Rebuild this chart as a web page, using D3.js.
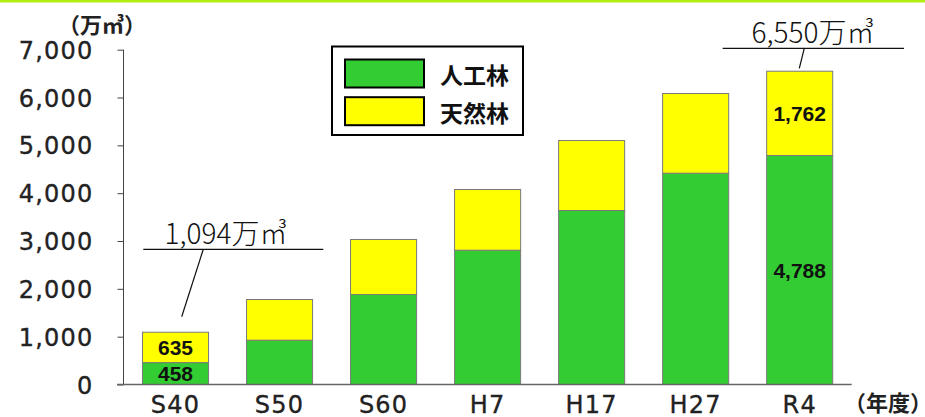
<!DOCTYPE html>
<html>
  <head>
    <meta charset="UTF-8">
    <title>森林蓄積の推移</title>
    <script src="https://d3js.org/d3.v7.min.js"></script>
    <style>
      body { margin: 0; background: #fff; }
    </style>
  </head>
  <body>
    <svg width="925" height="417"></svg>

    <script>

// 年度ごとの森林蓄積（万㎥）
const years = ["S40", "S50", "S60", "H7", "H17", "H27", "R4"];
const planted = [458, 926, 1882, 2808, 3638, 4418, 4788];   // 人工林
const natural = [635, 851, 1150, 1269, 1463, 1666, 1762];   // 天然林
const yTicks = [0, 1000, 2000, 3000, 4000, 5000, 6000, 7000];
const seriesNames = ["人工林", "天然林"];
const seriesColors = ["#33cc33", "#ffff00"];

const rows = years.map((y, i) => ({ year: y, planted: planted[i], natural: natural[i] }));

const svg = d3.select("svg");

// top accent line
svg.append("rect")
  .attr("x", 0).attr("y", 0)
  .attr("width", 925).attr("height", 2.5)
  .attr("fill", "#b2ee10");

const x = d3.scaleBand()
  .domain(years)
  .range([123.5, 851.7])
  .paddingInner(0.365)
  .paddingOuter(0.1825);

const y = d3.scaleLinear()
  .domain([0, 7000])
  .range([384.5, 49.7]);

const stack = d3.stack().keys(["planted", "natural"]);
const layers = stack(rows);

// bars
svg.append("g")
  .selectAll("g")
  .data(layers)
  .join("g")
    .attr("fill", (d, i) => seriesColors[i])
  .selectAll("rect")
  .data(d => d)
  .join("rect")
    .attr("x", d => x(d.data.year))
    .attr("y", d => y(d[1]))
    .attr("width", x.bandwidth())
    .attr("height", d => y(d[0]) - y(d[1]))
    .attr("stroke", "#7a7a7a")
    .attr("stroke-width", 1);

// y axis
const yAxis = svg.append("g")
  .attr("transform", "translate(123.5,0)")
  .call(d3.axisLeft(y).tickValues(yTicks).tickSize(6).tickPadding(24)
    .tickFormat(d3.format(",")));
yAxis.select(".domain").attr("stroke", "#444").attr("d", "M0," + y(7000) + "V" + y(0));
yAxis.selectAll(".tick line").attr("stroke", "#444");
yAxis.selectAll(".tick text")
  .attr("font-family", "DejaVu Sans")
  .attr("font-size", 24)
  .attr("letter-spacing", 1.2)
  .attr("fill", "#222")
  .attr("stroke", "#222")
  .attr("stroke-width", 0.35)
  .attr("dy", "0.36em");

// baseline
svg.append("line")
  .attr("x1", 117).attr("x2", 851.7)
  .attr("y1", y(0)).attr("y2", y(0))
  .attr("stroke", "#666").attr("stroke-width", 1.5);

// x labels
svg.append("g")
  .selectAll("text")
  .data(years)
  .join("text")
    .attr("x", d => x(d) + x.bandwidth() / 2)
    .attr("y", 413)
    .attr("text-anchor", "middle")
    .attr("font-family", "DejaVu Sans")
    .attr("font-size", 24)
    .attr("letter-spacing", 1.2)
    .attr("fill", "#222")
    .attr("stroke", "#222")
    .attr("stroke-width", 0.35)
    .text(d => d);

// units
svg.append("text")
  .attr("x", 102).attr("y", 33)
  .attr("text-anchor", "middle")
  .attr("font-family", "Noto Sans CJK JP")
  .attr("font-weight", "bold")
  .attr("font-size", 22)
  .attr("fill", "#222")
  .text("（万㎥）");

svg.append("text")
  .attr("x", 888).attr("y", 411)
  .attr("text-anchor", "middle")
  .attr("font-family", "Noto Sans CJK JP")
  .attr("font-weight", "bold")
  .attr("font-size", 22)
  .attr("fill", "#222")
  .text("（年度）");

// value labels on S40 and R4
const fmt = d3.format(",");
const valueLabels = [];
[0, years.length - 1].forEach(i => {
  layers.forEach(layer => {
    const d = layer[i];
    valueLabels.push({ year: d.data.year, v: d[1] - d[0], mid: (d[0] + d[1]) / 2 });
  });
});
svg.append("g")
  .selectAll("text")
  .data(valueLabels)
  .join("text")
    .attr("x", d => x(d.year) + x.bandwidth() / 2)
    .attr("y", d => y(d.mid))
    .attr("dy", "0.36em")
    .attr("text-anchor", "middle")
    .attr("font-family", "Liberation Sans")
    .attr("font-weight", "bold")
    .attr("font-size", 21)
    .attr("fill", "#111")
    .text(d => fmt(d.v));

// total callouts
const totals = [
  { year: "S40", total: planted[0] + natural[0] + 1, x1: 143.3, x2: 323.3, ly: 249.3, lx: 203.3, bx: 181.7, by: 316.7, tx: 226 },
  { year: "R4", total: planted[6] + natural[6], x1: 722.7, x2: 904, ly: 48.3, lx: 804.3, bx: 799.3, by: 68.3, tx: 813 }
];
const callout = svg.append("g").selectAll("g").data(totals).join("g");
callout.append("line")
  .attr("x1", d => d.x1).attr("x2", d => d.x2)
  .attr("y1", d => d.ly).attr("y2", d => d.ly)
  .attr("stroke", "#111").attr("stroke-width", 1.2);
callout.append("line")
  .attr("x1", d => d.lx).attr("y1", d => d.ly)
  .attr("x2", d => d.bx).attr("y2", d => d.by)
  .attr("stroke", "#111").attr("stroke-width", 1.2);
callout.append("text")
  .attr("x", d => d.tx)
  .attr("y", d => d.ly - 5)
  .attr("text-anchor", "middle")
  .attr("font-family", "Noto Sans CJK JP")
  .attr("font-weight", 300)
  .attr("font-size", 28)
  .attr("fill", "#111")
  .text(d => fmt(d.total) + "万㎥");

// legend
const legend = svg.append("g");
legend.append("rect")
  .attr("x", 332).attr("y", 46.5)
  .attr("width", 191).attr("height", 88.5)
  .attr("fill", "#fff")
  .attr("stroke", "#000").attr("stroke-width", 2);
const items = legend.selectAll("g.item")
  .data(seriesNames)
  .join("g")
    .attr("class", "item")
    .attr("transform", (d, i) => `translate(0,${i * 37.7})`);
items.append("rect")
  .attr("x", 345).attr("y", 59.5)
  .attr("width", 79).attr("height", 28)
  .attr("fill", (d, i) => seriesColors[i])
  .attr("stroke", "#000").attr("stroke-width", 2);
items.append("text")
  .attr("x", 440).attr("y", 84)
  .attr("font-family", "Noto Sans CJK JP")
  .attr("font-weight", "bold")
  .attr("font-size", 23)
  .attr("fill", "#111")
  .text(d => d);

    </script>
  </body>
</html>
